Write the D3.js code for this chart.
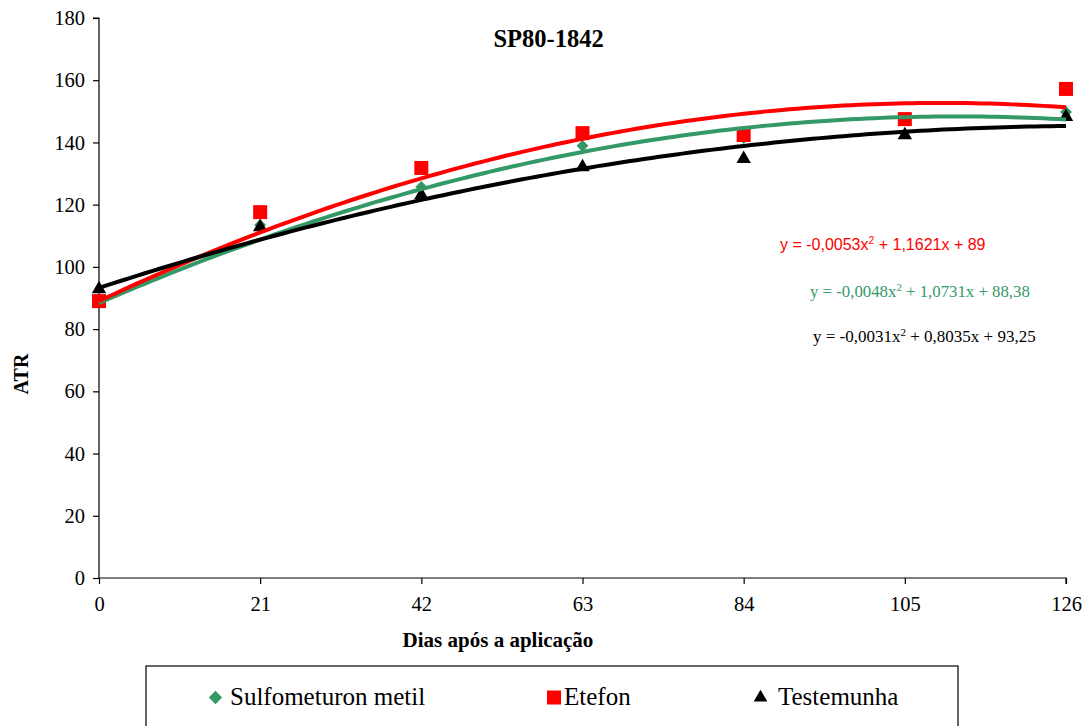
<!DOCTYPE html>
<html>
<head>
<meta charset="utf-8">
<script src="https://cdn.jsdelivr.net/npm/d3@7"></script>
<style>
  html, body { margin: 0; padding: 0; background: #fff; }
  svg { display: block; }
  .serif { font-family: "Liberation Serif", "Times New Roman", Times, "DejaVu Serif", serif; }
  .sans { font-family: "Liberation Sans", Arial, Helvetica, sans-serif; }
</style>
</head>
<body>
<svg id="chart" width="1090" height="726"></svg>
<script>
// Days after application
const days = [0, 21, 42, 63, 84, 105, 126];
const yTicks = [0, 20, 40, 60, 80, 100, 120, 140, 160, 180];

// ATR per treatment
const sulfometuron = [88.6, 113.5, 125.7, 138.9, 141.4, 147.6, 149.8];
const etefon       = [89.0, 117.6, 131.8, 143.0, 142.4, 147.5, 157.2];
const testemunha   = [92.9, 112.8, 123.1, 132.1, 134.7, 142.4, 148.2];

// Quadratic trend coefficients [a, b, c] for y = a*x^2 + b*x + c
const fitSulfometuron = [-0.0048, 1.0731, 88.38];
const fitEtefon       = [-0.0053, 1.1621, 89];
const fitTestemunha   = [-0.0031, 0.8035, 93.25];

const seriesNames = ["Sulfometuron metil", "Etefon", "Testemunha"];

const svg = d3.select("#chart");

const x = d3.scaleLinear().domain([0, 126]).range([99, 1066]);
const y = d3.scaleLinear().domain([0, 180]).range([578, 18]);

// Axes
const yAxis = svg.append("g")
  .attr("transform", `translate(${x(0)},0)`)
  .call(d3.axisLeft(y).tickValues(yTicks).tickSize(6).tickPadding(8).tickFormat(d3.format("d")));
const xAxis = svg.append("g")
  .attr("transform", `translate(0,${y(0)})`)
  .call(d3.axisBottom(x).tickValues(days).tickSize(6).tickPadding(12).tickFormat(d3.format("d")));

[yAxis, xAxis].forEach(g => {
  g.attr("font-family", null).attr("font-size", null);
  g.select(".domain").attr("stroke", "#000").attr("stroke-width", 1.2);
  g.selectAll(".tick line").attr("stroke", "#000").attr("stroke-width", 1.2);
  g.selectAll(".tick text")
    .attr("class", "serif")
    .attr("fill", "#000")
    .style("font-size", "20.5px");
});
yAxis.select(".domain").attr("d", `M-6,${y(180)}H0V${y(0)}`);
xAxis.select(".domain").attr("d", `M${x(0)},0H${x(126)}V6`);

// Titles
svg.append("text")
  .attr("class", "serif")
  .attr("x", 548.5).attr("y", 47)
  .attr("text-anchor", "middle")
  .style("font-weight", "bold").style("font-size", "24.5px")
  .text("SP80-1842");

svg.append("text")
  .attr("class", "serif")
  .attr("x", 498).attr("y", 647)
  .attr("text-anchor", "middle")
  .style("font-weight", "bold").style("font-size", "21px")
  .text("Dias após a aplicação");

svg.append("text")
  .attr("class", "serif")
  .attr("transform", `translate(28,374) rotate(-90)`)
  .attr("text-anchor", "middle")
  .style("font-weight", "bold").style("font-size", "20px")
  .text("ATR");

const series = [
  { name: seriesNames[0], values: sulfometuron, fit: fitSulfometuron, color: "#339966", type: d3.symbolDiamond2, size: 90, legendSize: 112 },
  { name: seriesNames[1], values: etefon, fit: fitEtefon, color: "#ff0000", type: d3.symbolSquare, size: 196, legendSize: 196 },
  { name: seriesNames[2], values: testemunha, fit: fitTestemunha, color: "#000000", type: d3.symbolTriangle, size: 90, legendSize: 80 }
];

// Data markers
series.forEach(s => {
  svg.append("g").selectAll("path")
    .data(s.values)
    .join("path")
    .attr("transform", (d, i) => `translate(${x(days[i])},${y(d)})`)
    .attr("d", d3.symbol().type(s.type).size(s.size))
    .attr("fill", s.color);
});

// Quadratic trend lines
const xs = d3.range(0, 126.01, 1);
const line = d3.line().x(d => x(d[0])).y(d => y(d[1]));
series.forEach(s => {
  const [a, b, c] = s.fit;
  svg.append("path")
    .datum(xs.map(v => [v, a * v * v + b * v + c]))
    .attr("d", line)
    .attr("fill", "none")
    .attr("stroke", s.color)
    .attr("stroke-width", 4)
    .attr("stroke-linejoin", "round");
});

// Regression equations
function equation(xPos, yPos, fit, color, cls, size) {
  const fmt = v => String(Math.abs(v)).replace(".", ",");
  const [a, b, c] = fit;
  const t = svg.append("text")
    .attr("class", cls)
    .attr("x", xPos).attr("y", yPos)
    .attr("fill", color)
    .style("font-size", size + "px");
  t.append("tspan").text(`y = ${a < 0 ? "-" : ""}${fmt(a)}x`);
  t.append("tspan").attr("dy", -6).style("font-size", (size * 0.65) + "px").text("2");
  t.append("tspan").attr("dy", 6).text(` + ${fmt(b)}x + ${fmt(c)}`);
}
equation(780, 250, fitEtefon, "#ff0000", "sans", 16);
equation(810, 297, fitSulfometuron, "#339966", "serif", 16.8);
equation(813, 342, fitTestemunha, "#000000", "serif", 17);

// Legend
const legend = svg.append("g");
legend.append("rect")
  .attr("x", 146).attr("y", 666).attr("width", 812).attr("height", 80)
  .attr("fill", "#fff").attr("stroke", "#000").attr("stroke-width", 1.2);
const legendPos = [
  { mx: 215.5, tx: 230 },
  { mx: 554, tx: 564 },
  { mx: 760.5, tx: 778 }
];
series.forEach((s, i) => {
  legend.append("path")
    .attr("transform", `translate(${legendPos[i].mx},697.5)`)
    .attr("d", d3.symbol().type(s.type).size(s.legendSize))
    .attr("fill", s.color);
  legend.append("text")
    .attr("class", "serif")
    .attr("x", legendPos[i].tx).attr("y", 705)
    .style("font-size", "25px")
    .text(s.name);
});
</script>
</body>
</html>
